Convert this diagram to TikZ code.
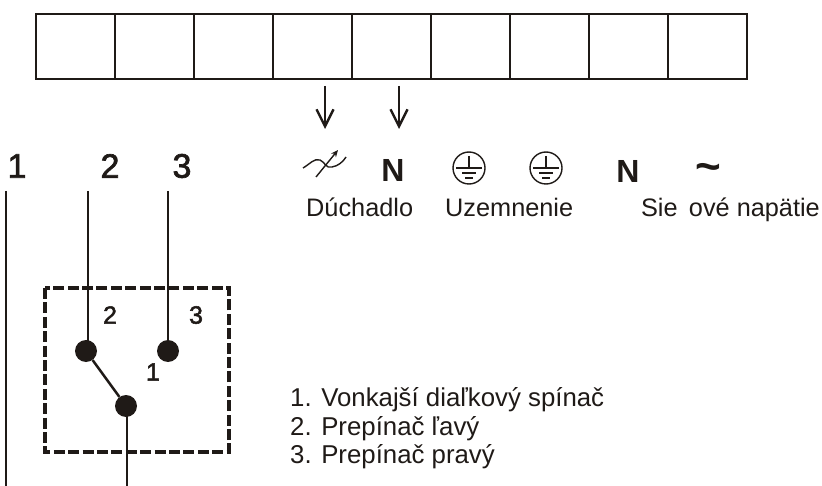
\documentclass[tikz,border=0pt]{standalone}
\usepackage{fontspec}
\setmainfont{Liberation Sans}
\newfontfamily\semibold[FakeBold=2]{Liberation Sans}
\usepackage{tikz}
\usetikzlibrary{positioning,arrows.meta}
\definecolor{ink}{HTML}{1F1A17}
\tikzset{
	cell/.style={draw=ink,line width=1.7pt,minimum width=79pt,minimum height=65pt,inner sep=0pt,outer sep=0pt},
	wire/.style={draw=ink,line width=2.5pt},
	dot/.style={circle,fill=ink,minimum size=22pt,inner sep=0pt},
	capt/.style={font=\fontsize{25.3}{28}\selectfont,text=ink,inner sep=0pt,anchor=base west},
	digit/.style={font=\fontsize{34}{36}\selectfont\semibold,text=ink,inner sep=0pt},
	sym/.style={font=\fontsize{32}{36}\selectfont\bfseries,text=ink,inner sep=0pt},
	small/.style={font=\fontsize{25}{28}\selectfont\semibold,text=ink,inner sep=0pt},
	txt/.style={font=\fontsize{25.8}{28}\selectfont,text=ink,inner sep=0pt,anchor=base west},
	gnd/.style={circle,draw=ink,line width=1.4pt,minimum size=32pt,inner sep=0pt},
	thin/.style={draw=ink,line width=1.4pt},
	down/.style={draw=ink,line width=2.4pt,-{Straight Barb[length=17pt,width=17pt,line width=2.4pt]}},
}
\begin{document}
\begin{tikzpicture}[x=1pt,y=-1pt]
	\useasboundingbox (0,0) rectangle (822,486);
	% terminal strip
	\node[cell,anchor=north west] (c1) at (36,14) {};
	\node[cell,right=0pt of c1] (c2) {};
	\node[cell,right=0pt of c2] (c3) {};
	\node[cell,right=0pt of c3] (c4) {};
	\node[cell,right=0pt of c4] (c5) {};
	\node[cell,right=0pt of c5] (c6) {};
	\node[cell,right=0pt of c6] (c7) {};
	\node[cell,right=0pt of c7] (c8) {};
	\node[cell,right=0pt of c8] (c9) {};

	% top row
	\node[digit] (n1) at (17,166) {1};
	\node[digit] (n2) at (110,166) {2};
	\node[digit] (n3) at (182,166) {3};
	\node[sym] (nn) at (393,170) {N};
	\node[gnd] (g1) at (469,168) {};
	\node[gnd] (g2) at (546,168) {};
	\node[sym] (nl) at (628,171) {N};
	\node[font=\fontsize{44}{44}\selectfont\bfseries,text=ink,inner sep=0pt] (ac) at (708,172) {\textasciitilde};

	% arrows
	\coordinate (a1) at (325,86);
	\coordinate (b1) at (325,129);
	\coordinate (a2) at (399,86);
	\coordinate (b2) at (399,129);
	\draw[down] (a1) -- (b1);
	\draw[down] (a2) -- (b2);

	% load symbol
	\coordinate (rh) at (303,168);
	\coordinate (rm) at (320,160);
	\coordinate (rn) at (332,167);
	\coordinate (rt) at (346,157);
	\draw[thin] (rh) .. controls (310,164) and (314,158) .. (rm) .. controls (325,162) and (326,169) .. (rn) .. controls (338,166) and (343,162) .. (rt);
	\coordinate (rs) at (316,177);
	\coordinate (re) at (338,150);
	\draw[thin,-{Stealth[length=7pt,width=6pt]}] (rs) -- (re);

	% earth symbols
	\draw[thin] (g1.center) ++(0,-12) -- ++(0,12) ++(-13,0) -- ++(26,0) ++(-20,5) -- ++(14,0) ++(-11,5) -- ++(8,0);
	\draw[thin] (g2.center) ++(0,-12) -- ++(0,12) ++(-13,0) -- ++(26,0) ++(-20,5) -- ++(14,0) ++(-11,5) -- ++(8,0);

	% captions
	\node[capt] (t1) at (306,217) {Dúchadlo};
	\node[capt] (t2) at (445,217) {Uzemnenie};
	\node[capt,anchor=base east] (t3) at (820,217) {Sie\hspace{0.45em}ové napätie};

	% switch
	\draw[ink,line width=3.5pt,dash pattern=on 11pt off 3.4pt] (45,288) rectangle (229,452);
	\node[dot] (d2) at (86,351) {};
	\node[dot] (d3) at (168,351) {};
	\node[dot] (d1) at (126,406) {};
	\node[small] (s2) at (110,315) {2};
	\node[small] (s3) at (196,315) {3};
	\node[small] (s1) at (153,372) {1};
	\coordinate (w1a) at (6,191);
	\coordinate (w1b) at (6,486);
	\coordinate (w2) at (88,191);
	\coordinate (w3) at (168,191);
	\coordinate (w4) at (127,486);
	\draw[wire] (w1a) -- (w1b);
	\draw[wire] (w2) -- (w2 |- d2);
	\draw[wire] (w3) -- (d3);
	\draw[wire] (d2) -- (d1);
	\draw[wire] (w4 |- d1) -- (w4);

	% legend
	\node[txt] (l1) at (290,406) {1. Vonkajší diaľkový spínač};
	\node[txt] (l2) at (290,435) {2. Prepínač ľavý};
	\node[txt] (l3) at (290,463) {3. Prepínač pravý};
\end{tikzpicture}
\end{document}
